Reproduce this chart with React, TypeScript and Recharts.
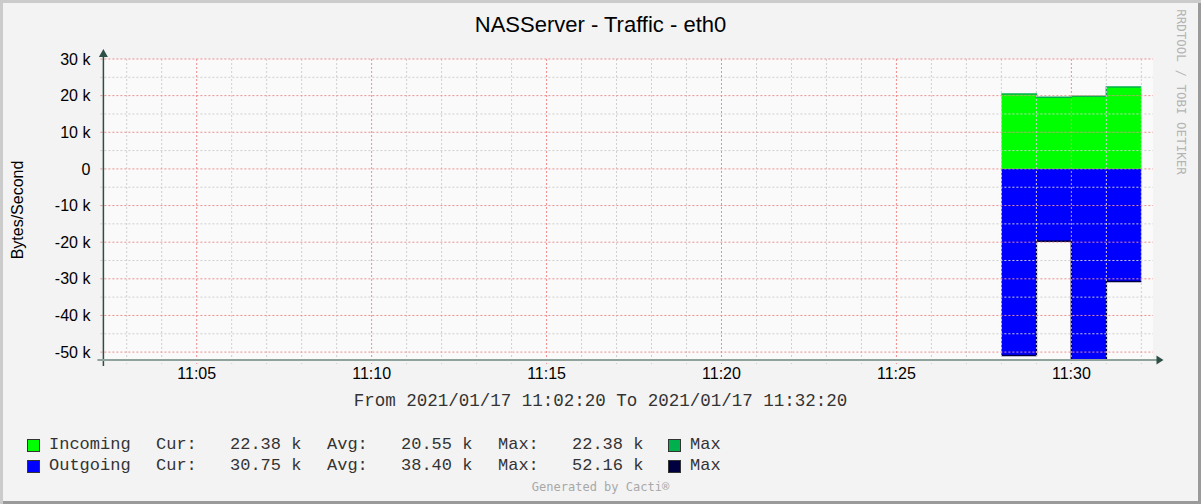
import React from 'react';
import { ComposedChart, Area, XAxis, YAxis, CartesianGrid, ReferenceLine } from 'recharts';

const START = '11:02:20';
const END = '11:32:20';

// one sample per minute, the last one closes the final step
const sampleTimes = ['11:28', '11:29', '11:30', '11:31', '11:32'];
const incoming = [20450, 19550, 19800, 22380, 22380];
const outgoing = [50950, 19740, 52160, 30750, 30750];

const timeTicks = ['11:05', '11:10', '11:15', '11:20', '11:25', '11:30'];
const valueTicks = [30000, 20000, 10000, 0, -10000, -20000, -30000, -40000, -50000];
const minorValues = [25000, 15000, 5000, -5000, -15000, -25000, -35000, -45000];
const Y_MIN = -52160;
const Y_MAX = 30000;

const legendNames = ['Incoming', 'Outgoing'];
const legendCur = ['22.38 k', '30.75 k'];
const legendAvg = ['20.55 k', '38.40 k'];
const legendMax = ['22.38 k', '52.16 k'];
const areaColors = ['#00FF00', '#0000FF'];
const maxColors = ['#00B04C', '#000040'];

const toSec = (t: string) => {
  const p = t.split(':').map(Number);
  return p[0] * 3600 + p[1] * 60 + (p[2] || 0);
};
const T0 = toSec(START);
const T1 = toSec(END);
const rel = (t: string) => toSec(t) - T0;

const chartData = sampleTimes.map((t, i) => ({ t: rel(t), inc: incoming[i], out: -outgoing[i] }));

// minute grid lines between the 5 minute ones
const minorTimes: number[] = [];
for (let s = toSec('11:03'); s <= T1; s += 60) {
  const rs = s - T0;
  if (!timeTicks.some((t) => rel(t) === rs)) minorTimes.push(rs);
}

const MONO = '"Liberation Mono", "DejaVu Sans Mono", monospace';
const SANS = '"Liberation Sans", Arial, sans-serif';

const vGrid = (p: any) => (
  <line x1={p.x1} x2={p.x2} y1={Math.min(p.y1, p.y2)} y2={Math.max(p.y1, p.y2) + 4}
    stroke={p.stroke} strokeWidth={1} strokeDasharray={p.strokeDasharray} />
);
const hGrid = (p: any) => (
  <line x1={Math.min(p.x1, p.x2) - 3} x2={Math.max(p.x1, p.x2)} y1={p.y1} y2={p.y2}
    stroke={p.stroke} strokeWidth={1} strokeDasharray={p.strokeDasharray} />
);

const yAxisArrow = (p: any) => {
  const x = p.x1;
  const top = Math.min(p.y1, p.y2);
  const bottom = Math.max(p.y1, p.y2);
  return (
    <g>
      <line x1={x} x2={x} y1={bottom + 6} y2={top - 3} stroke="#2f4f46" strokeWidth={1.5} />
      <polygon points={`${x - 4.5},${top - 2} ${x + 4.5},${top - 2} ${x},${top - 10}`} fill="#2f4f46" />
    </g>
  );
};
const xAxisArrow = (p: any) => {
  const y = p.y1;
  const left = Math.min(p.x1, p.x2);
  const right = Math.max(p.x1, p.x2);
  return (
    <g>
      <line x1={left - 6} x2={right + 4} y1={y} y2={y} stroke="#8fa39c" strokeWidth={2} />
      <polygon points={`${right + 3.5},${y - 4.5} ${right + 3.5},${y + 4.5} ${right + 10.5},${y}`} fill="#2f4f46" />
    </g>
  );
};

const legendCols = [
  { key: 'name', x: 49 },
  { key: 'cur', x: 156 },
  { key: 'avg', x: 327 },
  { key: 'max', x: 498 },
];

export default function App() {
  return (
    <div style={{ position: 'absolute', left: 0, top: 0, width: 1201, height: 504, background: '#f3f3f3', overflow: 'hidden' }}>
      <div style={{ position: 'absolute', left: 0, width: 1201, textAlign: 'center', top: 10, fontFamily: SANS, fontSize: 22, color: '#000', lineHeight: '30px' }}>
        NASServer - Traffic - eth0
      </div>
      <div style={{ position: 'absolute', left: 18, top: 210, transform: 'translate(-50%, -50%) rotate(-90deg)', fontFamily: SANS, fontSize: 16, whiteSpace: 'nowrap', color: '#000' }}>
        Bytes/Second
      </div>
      <div style={{ position: 'absolute', left: 1181, top: 92, transform: 'translate(-50%, -50%) rotate(90deg)', fontFamily: '"DejaVu Sans Mono", monospace', fontSize: 12.5, whiteSpace: 'nowrap', color: '#b4b4b4' }}>
        RRDTOOL / TOBI OETIKER
      </div>
      <div style={{ position: 'absolute', left: 0, top: 0 }}>
        <ComposedChart width={1201} height={504} data={chartData} margin={{ top: 59, right: 48, bottom: 114, left: 0 }}>
          <CartesianGrid fill="#fafafa" horizontal={false} vertical={false} />
          <XAxis dataKey="t" type="number" domain={[0, T1 - T0]} ticks={timeTicks.map(rel)} tickFormatter={(v: number) => timeTicks.find((t) => rel(t) === v) || ''}
            axisLine={false} tickLine={false} tickSize={0} tickMargin={8} height={30} interval={0}
            tick={{ fill: '#000', fontSize: 16, fontFamily: SANS }} allowDataOverflow />
          <YAxis type="number" domain={[Y_MIN, Y_MAX]} ticks={valueTicks} interval={0} width={103.4}
            tickFormatter={(v: number) => (v === 0 ? '0' : `${v / 1000} k`)}
            axisLine={false} tickLine={false} tickSize={0} tickMargin={13}
            tick={{ fill: '#000', fontSize: 16, fontFamily: SANS }} allowDataOverflow />
          <Area dataKey="inc" type="stepAfter" baseValue={0} fill={areaColors[0]} fillOpacity={1} stroke={maxColors[0]} strokeWidth={1.5} isAnimationActive={false} dot={false} activeDot={false} />
          <Area dataKey="out" type="stepAfter" baseValue={0} fill={areaColors[1]} fillOpacity={1} stroke={maxColors[1]} strokeWidth={1.5} isAnimationActive={false} dot={false} activeDot={false} />
          {minorTimes.map((t) => (
            <ReferenceLine key={'mx' + t} x={t} stroke="#cfcfcf" strokeDasharray="2 2" shape={vGrid} ifOverflow="visible" />
          ))}
          {minorValues.map((v) => (
            <ReferenceLine key={'my' + v} y={v} stroke="#cfcfcf" strokeDasharray="2 2" shape={hGrid} ifOverflow="visible" />
          ))}
          {timeTicks.map((t) => (
            <ReferenceLine key={'Mx' + t} x={rel(t)} stroke="#f08c8c" strokeDasharray="2 2" shape={vGrid} ifOverflow="visible" />
          ))}
          {valueTicks.map((v) => (
            <ReferenceLine key={'My' + v} y={v} stroke="#f08c8c" strokeDasharray="2 2" shape={hGrid} ifOverflow="visible" />
          ))}
          <ReferenceLine segment={[{ x: 0, y: Y_MIN }, { x: 0, y: Y_MAX }]} shape={yAxisArrow} ifOverflow="visible" />
          <ReferenceLine segment={[{ x: 0, y: Y_MIN }, { x: T1 - T0, y: Y_MIN }]} shape={xAxisArrow} ifOverflow="visible" />
        </ComposedChart>
      </div>
      <div style={{ position: 'absolute', left: 0, width: 1201, top: 391, textAlign: 'center', fontFamily: MONO, fontSize: 17.5, lineHeight: '20px', color: '#333', whiteSpace: 'pre' }}>
        From 2021/01/17 11:02:20 To 2021/01/17 11:32:20
      </div>
      {legendNames.map((name, i) => {
        const top = 435 + i * 21;
        const vals: any = { name, cur: 'Cur:', avg: 'Avg:', max: 'Max:' };
        const nums = [legendCur[i], legendAvg[i], legendMax[i]];
        return (
          <React.Fragment key={name}>
            <div style={{ position: 'absolute', left: 27, top: top + 3.5, width: 11, height: 11, background: areaColors[i], border: '1px solid #333' }} />
            {legendCols.map((c) => (
              <div key={c.key} style={{ position: 'absolute', left: c.x, top, fontFamily: MONO, fontSize: 17, lineHeight: '20px', color: '#333', whiteSpace: 'pre' }}>{vals[c.key]}</div>
            ))}
            {nums.map((n, j) => (
              <div key={'n' + j} style={{ position: 'absolute', left: 230 + j * 171, top, fontFamily: MONO, fontSize: 17, lineHeight: '20px', color: '#333', whiteSpace: 'pre' }}>{n}</div>
            ))}
            <div style={{ position: 'absolute', left: 668, top: top + 3.5, width: 11, height: 11, background: maxColors[i], border: '1px solid #333' }} />
            <div style={{ position: 'absolute', left: 690, top, fontFamily: MONO, fontSize: 17, lineHeight: '20px', color: '#333', whiteSpace: 'pre' }}>Max</div>
          </React.Fragment>
        );
      })}
      <div style={{ position: 'absolute', left: 0, width: 1201, top: 480, textAlign: 'center', fontFamily: '"DejaVu Sans Mono", monospace', fontSize: 12, lineHeight: '14px', color: '#a8a8a8' }}>
        Generated by Cacti®
      </div>
      <div style={{ position: 'absolute', left: 0, top: 0, width: 1201, height: 504, boxShadow: 'inset 3px 3px 0 #cbcbcb, inset -3px -3px 0 #9a9a9a', pointerEvents: 'none' }} />
    </div>
  );
}
